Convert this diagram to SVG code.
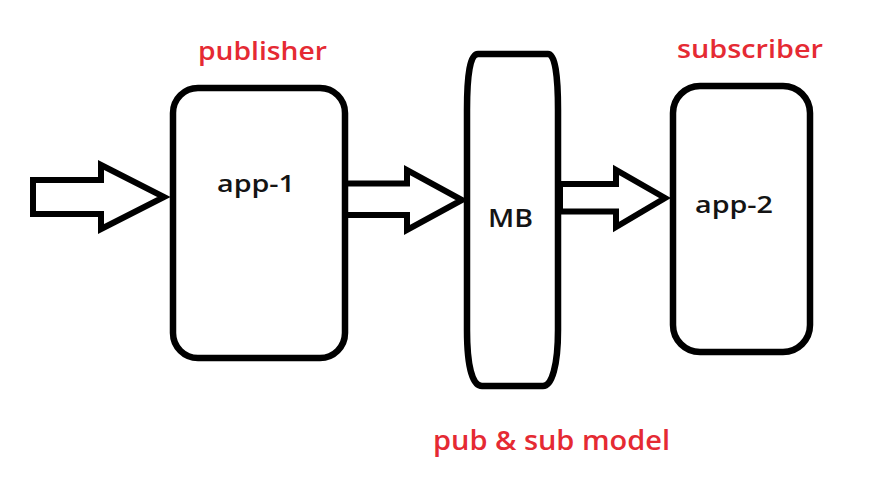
<svg xmlns="http://www.w3.org/2000/svg" width="894" height="487" viewBox="0 0 894 487">
  <style>
    .shape { fill: #ffffff; stroke: #000000; stroke-width: 6.5; stroke-linejoin: round; }
    .arrow { fill: #ffffff; stroke: #000000; stroke-width: 6; stroke-linejoin: miter; }
    .label { font-family: "Open Sans", "Liberation Sans", sans-serif; font-weight: 600; fill: #141414; }
    .note { font-family: "Open Sans", "Liberation Sans", sans-serif; font-weight: 600; fill: #e52a33; }
  </style>
  <rect width="894" height="487" fill="#ffffff"/>

  <g id="connectors">
    <polygon class="arrow" points="33,180 101,180 101,165 164,197 101,229 101,214 33,214"/>
    <polygon class="arrow" points="345,183.5 407,183.5 407,170 462,200 407,230 407,215 345,215"/>
    <polygon class="arrow" points="560,184 616,184 616,170 665,198 616,227 616,211.5 560,211.5"/>
  </g>

  <g id="app1">
    <rect class="shape" x="173" y="88" width="172" height="270" rx="25" ry="25"/>
    <text class="label" x="217" y="192" font-size="24" textLength="78" lengthAdjust="spacingAndGlyphs">app-1</text>
  </g>

  <g id="mb">
    <path class="shape" d="M478 54 L548 54 C555 54 558 75 558 110 L558 330 C558 365 552 386 543 386 L482 386 C472 386 467 365 467 330 L467 110 C467 75 470 54 478 54 Z"/>
    <text class="label" x="488" y="227" font-size="25" textLength="45" lengthAdjust="spacingAndGlyphs">MB</text>
  </g>

  <g id="app2">
    <rect class="shape" x="673" y="86" width="137" height="266" rx="27" ry="27"/>
    <text class="label" x="695" y="213" font-size="24" textLength="78" lengthAdjust="spacingAndGlyphs">app-2</text>
  </g>

  <g id="labels">
    <text class="note" x="198" y="60" font-size="26" textLength="129" lengthAdjust="spacingAndGlyphs">publisher</text>
    <text class="note" x="677" y="58" font-size="26" textLength="146" lengthAdjust="spacingAndGlyphs">subscriber</text>
    <text class="note" x="433" y="450" font-size="27" textLength="237" lengthAdjust="spacingAndGlyphs">pub &amp; sub model</text>
  </g>
</svg>
